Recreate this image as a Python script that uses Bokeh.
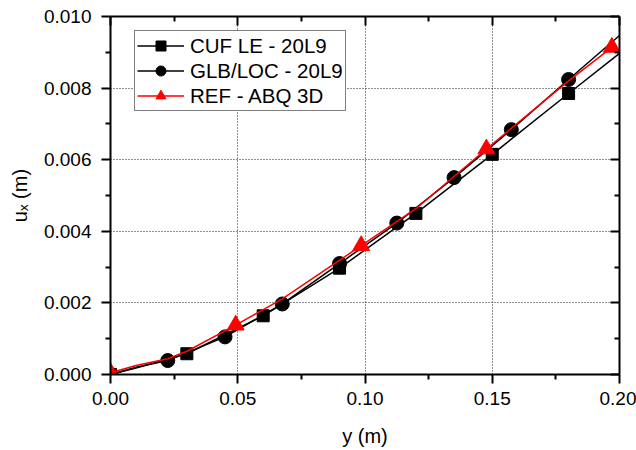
from bokeh.plotting import figure
from bokeh.models import (Range1d, LinearAxis, FixedTicker, PrintfTickFormatter,
                          CustomJSTickFormatter, Legend, LegendItem)
from bokeh.embed import file_html
from bokeh.resources import INLINE

# ---- data ----
# CUF LE - 20L9
cuf_line_x = [0.0, 0.01, 0.03, 0.06, 0.09, 0.12, 0.15, 0.18, 0.20]
cuf_line_y = [0.0, 0.00018, 0.00058, 0.00164, 0.00297, 0.0045, 0.00615, 0.00785, 0.00897]
cuf_mark_x = [0.0, 0.03, 0.06, 0.09, 0.12, 0.15, 0.18]
cuf_mark_y = [0.0, 0.00058, 0.00164, 0.00297, 0.0045, 0.00615, 0.00785]

# GLB/LOC - 20L9
glb_line_x = [0.0, 0.01, 0.0225, 0.045, 0.0675, 0.09, 0.1125, 0.135, 0.1575, 0.18, 0.20]
glb_line_y = [0.0, 0.0002, 0.00039, 0.00105, 0.00197, 0.0031, 0.00423, 0.0055, 0.00684, 0.00824, 0.00947]
glb_mark_x = [0.0, 0.0225, 0.045, 0.0675, 0.09, 0.1125, 0.135, 0.1575, 0.18]
glb_mark_y = [0.0, 0.00039, 0.00105, 0.00197, 0.0031, 0.00423, 0.0055, 0.00684, 0.00824]

# REF - ABQ 3D
ref_line_x = [0.0, 0.01, 0.0225, 0.03, 0.0492, 0.0675, 0.0985, 0.12, 0.1477, 0.18, 0.197]
ref_line_y = [0.00005, 0.00025, 0.00044, 0.00065, 0.00138, 0.00211, 0.0036, 0.00463, 0.0063, 0.0082, 0.00914]
ref_mark_x = [0.0, 0.0492, 0.0985, 0.1477, 0.197]
ref_mark_y = [0.00005, 0.00138, 0.0036, 0.0063, 0.00914]

x_ticks = [0.0, 0.05, 0.10, 0.15, 0.20]
x_minor = [0.025, 0.075, 0.125, 0.175]
y_ticks = [0.0, 0.002, 0.004, 0.006, 0.008, 0.010]
y_minor = [0.001, 0.003, 0.005, 0.007, 0.009]

labels = ["CUF LE - 20L9", "GLB/LOC - 20L9", "REF - ABQ 3D"]

FONT = "Liberation Sans"
FS = "19px"

p = figure(width=636, height=450, output_backend="svg", toolbar_location=None,
           x_range=Range1d(0, 0.2), y_range=Range1d(0, 0.01),
           min_border_left=110, min_border_right=17, min_border_top=16,
           min_border_bottom=76, background_fill_color="white",
           border_fill_color="white", outline_line_color=None)

xt = FixedTicker(ticks=x_ticks, minor_ticks=x_minor)
yt = FixedTicker(ticks=y_ticks, minor_ticks=y_minor)

def style_axis(ax, ticker, fmt, outward=True):
    ax.ticker = ticker
    ax.formatter = fmt
    ax.axis_line_width = 2
    ax.axis_line_color = "black"
    ax.major_tick_line_width = 2
    ax.minor_tick_line_width = 2
    ax.major_tick_line_color = "black"
    ax.minor_tick_line_color = "black"
    if outward:
        ax.major_tick_out = 9
        ax.major_tick_in = 0
        ax.minor_tick_out = 5
        ax.minor_tick_in = 0
    else:
        ax.major_tick_out = 0
        ax.major_tick_in = 9
        ax.minor_tick_out = 0
        ax.minor_tick_in = 5
    ax.major_label_text_font = FONT
    ax.major_label_text_font_size = FS
    ax.major_label_text_color = "black"
    ax.axis_label_text_font = FONT
    ax.axis_label_text_font_size = "20px"
    ax.axis_label_text_font_style = "normal"
    ax.axis_label_text_color = "black"

style_axis(p.xaxis[0], xt, PrintfTickFormatter(format="%.2f"))
style_axis(p.yaxis[0], yt, PrintfTickFormatter(format="%.3f"))
p.xaxis[0].axis_label = "y (m)"
p.yaxis[0].axis_label = "uₓ (m)"
p.xaxis[0].major_label_standoff = 8
p.xaxis[0].axis_label_standoff = 17
p.yaxis[0].major_label_standoff = 10
p.yaxis[0].axis_label_standoff = 10

blank = CustomJSTickFormatter(code="return ''")
top = LinearAxis()
style_axis(top, FixedTicker(ticks=x_ticks, minor_ticks=x_minor), blank, outward=False)
p.add_layout(top, "above")
right = LinearAxis()
style_axis(right, FixedTicker(ticks=y_ticks, minor_ticks=y_minor), blank, outward=False)
p.add_layout(right, "right")

for g, t in ((p.xgrid[0], xt), (p.ygrid[0], yt)):
    g.ticker = t
    g.grid_line_color = "#222222"
    g.grid_line_dash = "1 2"
    g.grid_line_width = 1

l1 = p.line(cuf_line_x, cuf_line_y, line_color="black", line_width=1.5)
m1 = p.scatter(cuf_mark_x, cuf_mark_y, marker="square", size=12,
               fill_color="black", line_color="black")
l2 = p.line(glb_line_x, glb_line_y, line_color="black", line_width=1.5)
m2 = p.scatter(glb_mark_x, glb_mark_y, marker="circle", size=14,
               fill_color="black", line_color="black")
l3 = p.line(ref_line_x, ref_line_y, line_color="red", line_width=1.5)
m3 = p.scatter(ref_mark_x, ref_mark_y, marker="triangle", size=17,
               fill_color="red", line_color="red")

legend = Legend(items=[LegendItem(label=labels[0], renderers=[l1, m1]),
                       LegendItem(label=labels[1], renderers=[l2, m2]),
                       LegendItem(label=labels[2], renderers=[l3, m3])],
                location=(24, 263))
legend.label_text_font = FONT
legend.label_text_font_size = "20.5px"
legend.label_text_color = "black"
legend.border_line_color = "black"
legend.border_line_width = 1
legend.background_fill_color = "white"
legend.background_fill_alpha = 1
legend.padding = 2
legend.margin = 0
legend.spacing = 0
legend.label_height = 25
legend.glyph_height = 25
legend.glyph_width = 47
legend.label_standoff = 6
p.add_layout(legend)

open("out.html", "w").write(file_html(p, INLINE))
